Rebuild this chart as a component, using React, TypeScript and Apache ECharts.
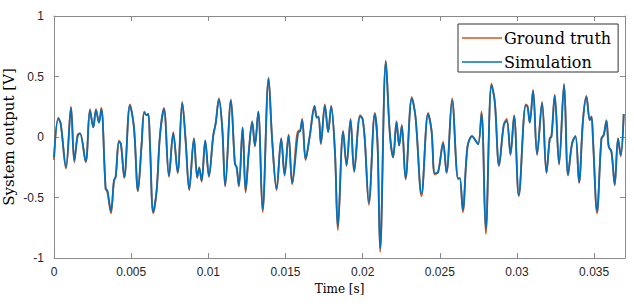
import React, { useEffect, useRef } from "react";
import * as echarts from "echarts";

const times = [0, 0.00028, 0.000434, 0.000777, 0.001101, 0.001315, 0.001535, 0.001684, 0.002053, 0.002332,
  0.002545, 0.00272, 0.002915, 0.003064, 0.003348, 0.003452, 0.003692, 0.003886, 0.003996, 0.00421,
  0.004339, 0.004553, 0.004922, 0.005181, 0.00544, 0.00568, 0.005848, 0.006004, 0.006108, 0.006218,
  0.006431, 0.006652, 0.006865, 0.007124, 0.007448, 0.007727, 0.008012, 0.00831, 0.00853, 0.008763,
  0.009067, 0.009281, 0.009411, 0.009566, 0.009799, 0.010039, 0.010317, 0.010473, 0.010687, 0.0109,
  0.011095, 0.011464, 0.011723, 0.011833, 0.011982, 0.012222, 0.012416, 0.01263, 0.012843, 0.013018,
  0.013232, 0.013517, 0.013905, 0.014139, 0.014424, 0.014722, 0.014942, 0.015201, 0.015434, 0.015823,
  0.015933, 0.016082, 0.016302, 0.01658, 0.016885, 0.017034, 0.017144, 0.017293, 0.017552, 0.017766,
  0.01796, 0.0182, 0.018394, 0.018737, 0.018957, 0.019216, 0.01945, 0.019838, 0.019994, 0.020143,
  0.020402, 0.02079, 0.020965, 0.021134, 0.021503, 0.021762, 0.021976, 0.022196, 0.022364, 0.022539,
  0.022779, 0.023187, 0.023426, 0.023815, 0.024242, 0.024462, 0.024676, 0.024891, 0.025214, 0.025434,
  0.025797, 0.026186, 0.026295, 0.02649, 0.026794, 0.027092, 0.027267, 0.027481, 0.027701, 0.027979,
  0.028349, 0.028563, 0.028841, 0.029145, 0.029339, 0.029579, 0.029812, 0.030117, 0.03057, 0.03068,
  0.030829, 0.031043, 0.031302, 0.031626, 0.031911, 0.032125, 0.032235, 0.032448, 0.032727, 0.033051,
  0.03331, 0.033569, 0.033789, 0.034022, 0.034281, 0.034502, 0.034715, 0.034826, 0.034929, 0.035188,
  0.035473, 0.035622, 0.035797, 0.035946, 0.036121, 0.036334, 0.036548, 0.036723, 0.036917];

const simulation = [-0.17, 0.15, 0.11, -0.25, 0.24, -0.19, 0.01, 0.03, -0.2, 0.22,
  0.08, 0.22, 0.12, 0.23, -0.43, -0.44, -0.61, -0.36, -0.33, -0.04,
  -0.06, -0.33, 0.26, 0.08, -0.44, -0.055, 0.2, 0.18, 0.19, -0.06,
  -0.62, -0.44, 0.01, 0.23, -0.32, 0.03, -0.29, 0.28, -0.03, -0.43,
  -0.015, -0.33, -0.26, -0.36, -0.03, -0.32, 0.01, 0.11, 0.31, 0.08,
  -0.4, 0.3, -0.22, -0.25, -0.4, 0.08, -0.44, -0.11, 0.12, -0.07,
  0.21, -0.6, 0.48, -0.03, -0.43, -0.015, -0.31, 0.014, -0.38, 0.04,
  0.045, 0.14, -0.18, 0.014, 0.25, 0.16, 0.165, -0.05, 0.26, 0.04,
  0.25, -0.11, -0.74, 0.04, -0.23, 0.14, -0.28, 0.17, 0.15, -0.03,
  -0.54, 0.19, -0.055, -0.92, 0.62, 0.03, -0.165, 0.12, -0.07, 0.09,
  -0.34, 0.32, 0.165, -0.47, 0.19, 0.055, -0.3, -0.29, -0.055, -0.29,
  0.3, -0.34, -0.34, -0.6, -0.08, 0.005, -0.02, -0.06, 0.19, -0.76,
  0.43, 0.29, -0.23, 0.1, 0.13, -0.14, 0.17, -0.48, 0.26, 0.255,
  0.12, 0.38, -0.14, 0.28, -0.29, -0.015, 0, 0.34, -0.22, 0.43,
  -0.31, -0.055, 0.005, -0.37, 0.14, 0.33, 0.14, 0.165, -0.03, -0.61,
  -0.015, 0.014, 0.13, -0.08, -0.12, -0.39, -0.015, -0.15, 0.19];

const groundTruth = [-0.19, 0.16, 0.11, -0.26, 0.25, -0.21, 0.02, 0.03, -0.21, 0.23,
  0.08, 0.23, 0.12, 0.24, -0.43, -0.45, -0.63, -0.36, -0.33, -0.03,
  -0.06, -0.34, 0.27, 0.08, -0.45, -0.055, 0.21, 0.18, 0.19, -0.06,
  -0.63, -0.44, 0.01, 0.24, -0.33, 0.04, -0.3, 0.29, -0.03, -0.44,
  -0.01, -0.34, -0.25, -0.37, -0.03, -0.33, 0.01, 0.11, 0.32, 0.08,
  -0.41, 0.31, -0.22, -0.25, -0.41, 0.08, -0.46, -0.11, 0.13, -0.08,
  0.21, -0.62, 0.49, -0.03, -0.44, -0.01, -0.32, 0.02, -0.39, 0.05,
  0.05, 0.15, -0.19, 0.014, 0.26, 0.16, 0.17, -0.06, 0.27, 0.04,
  0.26, -0.11, -0.77, 0.05, -0.24, 0.15, -0.29, 0.18, 0.15, -0.03,
  -0.56, 0.2, -0.055, -0.95, 0.63, 0.03, -0.17, 0.13, -0.07, 0.1,
  -0.35, 0.33, 0.165, -0.49, 0.2, 0.055, -0.31, -0.29, -0.04, -0.3,
  0.32, -0.35, -0.34, -0.62, -0.08, 0.01, -0.02, -0.06, 0.21, -0.8,
  0.44, 0.29, -0.24, 0.1, 0.15, -0.15, 0.18, -0.49, 0.27, 0.255,
  0.12, 0.39, -0.15, 0.29, -0.3, -0.01, 0.01, 0.35, -0.23, 0.44,
  -0.32, -0.05, 0.01, -0.38, 0.15, 0.34, 0.14, 0.17, -0.03, -0.63,
  -0.01, 0.02, 0.14, -0.08, -0.12, -0.4, -0.01, -0.16, 0.19];

const xTickInterval = 0.005;
const yTicks = [-1, -0.5, 0, 0.5, 1];
const yAxisTitle = "System output [V]";

const serif = "'DejaVu Serif', serif";
const sans = "'Liberation Sans', Arial, sans-serif";
const axisGray = "#8a8a8a";
const textDark = "#262626";

export default function App() {
  const ref = useRef<HTMLDivElement>(null);
  useEffect(() => {
    if (!ref.current) return;
    const chart = echarts.init(ref.current, undefined, { renderer: "svg" });
    const sim = times.map((t, i) => [t, simulation[i]]);
    const truth = times.map((t, i) => [t, groundTruth[i]]);
    const fmt = (v: number) => String(parseFloat(v.toFixed(4)));
    chart.setOption({
      animation: false,
      backgroundColor: "#ffffff",
      grid: { left: 54, right: 9, top: 16, bottom: 49, containLabel: false, outerBoundsMode: "none" },
      graphic: [
        {
          type: "text",
          x: 9,
          y: 137,
          rotation: Math.PI / 2,
          style: {
            text: yAxisTitle,
            font: "15px 'DejaVu Serif', serif",
            fill: "#000",
            align: "center",
            verticalAlign: "middle",
          },
        },
      ],
      legend: {
        left: 458,
        top: 24,
        orient: "vertical",
        icon: "rect",
        itemWidth: 40,
        itemHeight: 1.6,
        itemGap: 4,
        padding: [4, 7, 0, 4],
        borderColor: "#333",
        borderWidth: 1,
        backgroundColor: "#fff",
        textStyle: { fontFamily: serif, fontSize: 16, lineHeight: 20, color: "#000", padding: [0, 0, 0, -3] },
        data: ["Ground truth", "Simulation"],
      },
      xAxis: [
        {
          type: "value",
          min: 0,
          max: 0.037,
          interval: xTickInterval,
          position: "bottom",
          name: "Time [s]",
          nameLocation: "middle",
          nameGap: 21,
          nameTextStyle: { fontFamily: serif, fontSize: 12, color: "#000" },
          axisLine: { show: true, onZero: false, lineStyle: { color: axisGray, width: 1 } },
          axisTick: { show: true, inside: true, length: 5, lineStyle: { color: axisGray } },
          axisLabel: { fontFamily: sans, fontSize: 12, color: textDark, margin: 8, showMaxLabel: false, formatter: fmt },
          splitLine: { show: false },
        },
        {
          type: "value",
          min: 0,
          max: 0.037,
          interval: xTickInterval,
          position: "top",
          axisLine: { show: true, onZero: false, lineStyle: { color: axisGray, width: 1 } },
          axisTick: { show: true, inside: true, length: 5, lineStyle: { color: axisGray } },
          axisLabel: { show: false },
          splitLine: { show: false },
        },
      ],
      yAxis: [
        {
          type: "value",
          min: yTicks[0],
          max: yTicks[yTicks.length - 1],
          interval: 0.5,
          position: "left",
          axisLine: { show: true, onZero: false, lineStyle: { color: axisGray, width: 1 } },
          axisTick: { show: true, inside: true, length: 5, lineStyle: { color: axisGray } },
          axisLabel: { fontFamily: sans, fontSize: 12, color: textDark, margin: 10, formatter: fmt },
          splitLine: { show: false },
        },
        {
          type: "value",
          min: yTicks[0],
          max: yTicks[yTicks.length - 1],
          interval: 0.5,
          position: "right",
          axisLine: { show: true, onZero: false, lineStyle: { color: axisGray, width: 1 } },
          axisTick: { show: true, inside: true, length: 5, lineStyle: { color: axisGray } },
          axisLabel: { show: false },
          splitLine: { show: false },
        },
      ],
      series: [
        {
          name: "Ground truth",
          type: "line",
          data: truth,
          showSymbol: false,
          symbol: "none",
          smooth: 0.35,
          color: "#D95319",
          lineStyle: { color: "#D95319", width: 1.8 },
        },
        {
          name: "Simulation",
          type: "line",
          data: sim,
          showSymbol: false,
          symbol: "none",
          smooth: 0.35,
          color: "#0072BD",
          lineStyle: { color: "#0072BD", width: 1.8 },
        },
      ],
    });
    return () => chart.dispose();
  }, []);
  return <div ref={ref} style={{ width: 634, height: 307, position: "absolute", left: 0, top: 0 }} />;
}
